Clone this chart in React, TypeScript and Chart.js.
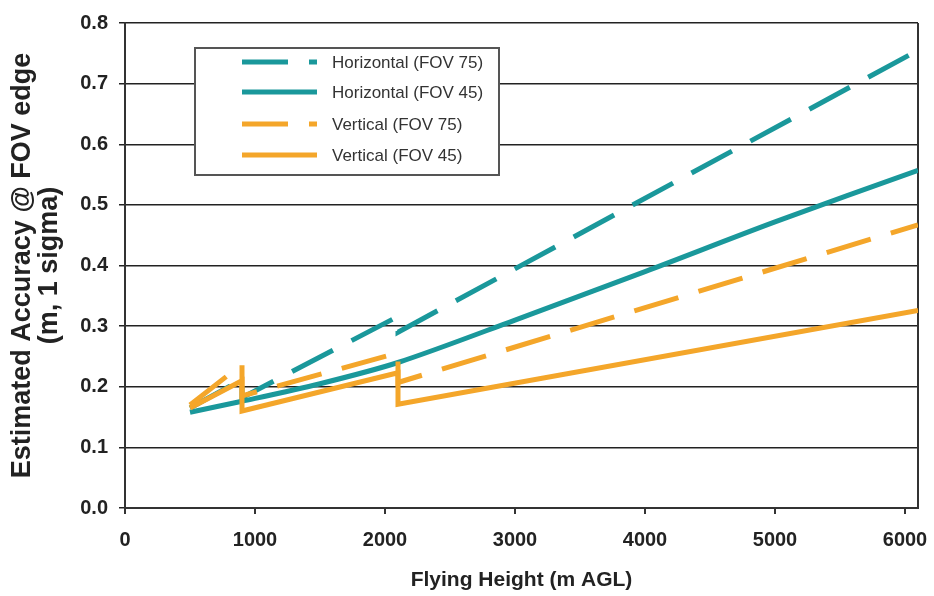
import React, { useEffect, useRef } from 'react';
import { Chart, registerables } from 'chart.js';

Chart.register(...registerables);

// ---- Data ----
const seriesLabels = ['Horizontal (FOV 75)', 'Horizontal (FOV 45)', 'Vertical (FOV 75)', 'Vertical (FOV 45)'];

const hFov75X = [500, 900, 900, 2100, 2100, 6100];
const hFov75Y = [0.165, 0.212, 0.182, 0.316, 0.29, 0.755];

const hFov45X = [500, 900, 1500, 2100, 3000, 4000, 5000, 6100];
const hFov45Y = [0.158, 0.176, 0.205, 0.24, 0.31, 0.39, 0.472, 0.557];

const vFov75X = [500, 900, 900, 2100, 2100, 6100];
const vFov75Y = [0.17, 0.237, 0.185, 0.256, 0.207, 0.467];

const vFov45X = [500, 900, 900, 2100, 2100, 6100];
const vFov45Y = [0.165, 0.21, 0.16, 0.223, 0.171, 0.326];

const xMin = 0;
const xMax = 6100;
const xTickValues = [0, 1000, 2000, 3000, 4000, 5000, 6000];
const yMin = 0;
const yMax = 0.8;
const yStep = 0.1;

const xTitle = 'Flying Height (m AGL)';
const yTitle = ['Estimated Accuracy @ FOV edge', '(m, 1 sigma)'];

const TEAL = '#1a989b';
const ORANGE = '#f4a62a';
const FONT = 'Arial, "Liberation Sans", sans-serif';

const toPoints = (xs: number[], ys: number[]) => xs.map((x, i) => ({ x, y: ys[i] }));

const plotBorder = {
  id: 'plotBorder',
  beforeDatasetsDraw(chart: any) {
    const { ctx, chartArea } = chart;
    ctx.save();
    ctx.strokeStyle = '#333';
    ctx.lineWidth = 2;
    ctx.beginPath();
    ctx.moveTo(chartArea.right, chartArea.top);
    ctx.lineTo(chartArea.right, chartArea.bottom);
    ctx.stroke();
    ctx.restore();
  },
};

const boxLegend = {
  id: 'boxLegend',
  afterDatasetsDraw(chart: any) {
    const { ctx } = chart;
    const bx = 195, by = 48, bw = 304, bh = 127;
    ctx.save();
    ctx.fillStyle = '#fff';
    ctx.fillRect(bx, by, bw, bh);
    ctx.strokeStyle = '#555';
    ctx.lineWidth = 2;
    ctx.strokeRect(bx, by, bw, bh);
    const rows = [62, 92, 124, 155];
    chart.data.datasets.forEach((ds: any, i: number) => {
      const y = rows[i];
      ctx.strokeStyle = ds.borderColor;
      ctx.lineWidth = 5;
      ctx.lineCap = 'butt';
      ctx.setLineDash(ds.borderDash || []);
      ctx.beginPath();
      ctx.moveTo(242, y);
      ctx.lineTo(317, y);
      ctx.stroke();
      ctx.setLineDash([]);
      ctx.fillStyle = '#333';
      ctx.font = `17px ${FONT}`;
      ctx.textBaseline = 'middle';
      ctx.textAlign = 'left';
      ctx.fillText(ds.label, 332, y + 1);
    });
    ctx.restore();
  },
};

export default function App() {
  const ref = useRef<HTMLCanvasElement | null>(null);

  useEffect(() => {
    if (!ref.current) return;
    const chart = new Chart(ref.current, {
      type: 'line',
      data: {
        datasets: [
          {
            label: seriesLabels[0],
            data: toPoints(hFov75X, hFov75Y),
            borderColor: TEAL,
            borderWidth: 5,
            borderDash: [46, 21],
            pointRadius: 0,
            tension: 0,
            order: 1,
          },
          {
            label: seriesLabels[1],
            data: toPoints(hFov45X, hFov45Y),
            borderColor: TEAL,
            borderWidth: 5,
            pointRadius: 0,
            tension: 0.3,
            order: 1,
          },
          {
            label: seriesLabels[2],
            data: toPoints(vFov75X, vFov75Y),
            borderColor: ORANGE,
            borderWidth: 5,
            borderDash: [46, 21],
            pointRadius: 0,
            tension: 0,
            order: 0,
          },
          {
            label: seriesLabels[3],
            data: toPoints(vFov45X, vFov45Y),
            borderColor: ORANGE,
            borderWidth: 5,
            pointRadius: 0,
            tension: 0,
            order: 0,
          },
        ],
      },
      options: {
        animation: false,
        responsive: true,
        maintainAspectRatio: false,
        layout: { padding: { top: 18, right: 16, left: 0, bottom: 0 } },
        plugins: {
          legend: { display: false },
          tooltip: { enabled: false },
        },
        scales: {
          x: {
            type: 'linear',
            min: xMin,
            max: xMax,
            afterFit: (s: any) => { s.height = 88; s.paddingLeft = 0; s.paddingRight = 0; },
            afterBuildTicks: (s: any) => { s.ticks = xTickValues.map((v) => ({ value: v })); },
            ticks: {
              padding: 14,
              color: '#222',
              font: { family: FONT, size: 20, weight: 'bold' },
              maxRotation: 0,
              autoSkip: false,
              callback: (v: any) => String(v),
            },
            grid: { drawOnChartArea: false, drawTicks: true, tickLength: 6, color: '#333', lineWidth: 2 },
            border: { display: true, color: '#333', width: 2 },
            title: {
              display: true,
              text: xTitle,
              color: '#222',
              font: { family: FONT, size: 21, weight: 'bold' },
              padding: { top: 0, bottom: 3 },
            },
          },
          y: {
            type: 'linear',
            min: yMin,
            max: yMax,
            afterFit: (s: any) => { s.width = 125; },
            ticks: {
              stepSize: yStep,
              padding: 11,
              color: '#222',
              font: { family: FONT, size: 20, weight: 'bold' },
              callback: (v: any) => Number(v).toFixed(1),
            },
            grid: { color: '#222', lineWidth: 1.5, tickLength: 6, drawTicks: true },
            border: { display: true, color: '#333', width: 2 },
            title: {
              display: true,
              text: yTitle,
              color: '#222',
              font: { family: FONT, size: 27, weight: 'bold', lineHeight: 1.0 },
              padding: { top: 9, bottom: 0 },
            },
          },
        },
      },
      plugins: [plotBorder, boxLegend],
    });
    return () => chart.destroy();
  }, []);

  return (
    <div style={{ position: 'absolute', left: 0, top: 0, width: 934, height: 596, background: '#fff' }}>
      <canvas ref={ref} />
    </div>
  );
}
